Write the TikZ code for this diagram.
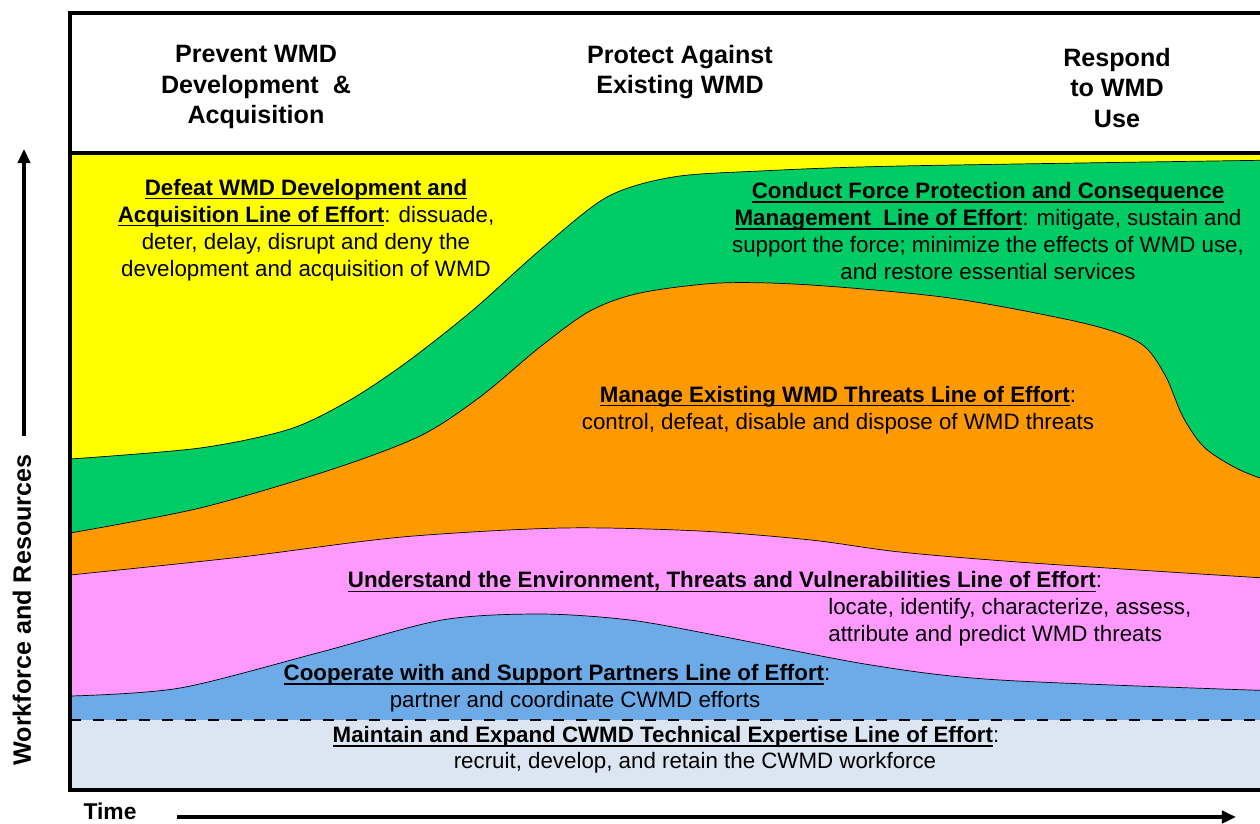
\documentclass[tikz,border=0pt]{standalone}
\usepackage{fontspec}
\setmainfont{Liberation Sans}
\usepackage{tikz}
\usetikzlibrary{arrows.meta}
\usepackage{xcolor}
\definecolor{sunyellow}{RGB}{255,255,0}
\definecolor{leafgreen}{RGB}{0,204,102}
\definecolor{amber}{RGB}{255,153,0}
\definecolor{orchid}{RGB}{255,153,255}
\definecolor{skyblue}{RGB}{108,170,232}
\definecolor{paleblue}{RGB}{220,230,242}
\newsavebox\loebox
\newcommand{\loe}[1]{\sbox\loebox{\bfseries #1}\rlap{\usebox\loebox}\rule[-2.4pt]{\wd\loebox}{0.9pt}}
\tikzset{
  phase/.style={font=\fontsize{14.3}{17.4}\selectfont\bfseries,align=center,inner sep=0pt},
  effort/.style={font=\fontsize{12.7}{15.4}\selectfont,align=center,inner sep=0pt},
  band/.style={draw=black,line width=0.4pt},
  axisarrow/.style={line width=2.3pt,-{Triangle[length=8pt,width=7pt]}}
}

\begin{document}
\begin{tikzpicture}[x=0.02cm,y=-0.02cm]
\useasboundingbox (0,0) rectangle (1260,823);
\clip (0,0) rectangle (1260,823);
\draw[fill=sunyellow,draw=none] (70,153) rectangle (1280,790);
\draw[fill=leafgreen,band] plot[smooth] coordinates {(70,459) (200,448) (290,429) (350,400) (407,362) (473,310) (540,250) (607,197) (673,177) (760,171) (900,166) (1280,160)} -- (1280,790) -- (70,790) -- cycle;
\draw[fill=amber,band] plot[smooth] coordinates {(70,533) (200,508) (330,470) (420,436) (480,397) (540,347) (590,311) (640,293) (720,283) (811,285) (950,298) (1083,323) (1140,343) (1165,375) (1183,417) (1205,448) (1240,470) (1280,485)} -- (1280,790) -- (70,790) -- cycle;
\draw[fill=orchid,band] plot[smooth] coordinates {(70,575) (241,557) (402,537) (562,528) (700,531) (811,540) (900,552) (1032,563) (1280,579)} -- (1280,790) -- (70,790) -- cycle;
\draw[fill=skyblue,band] plot[smooth] coordinates {(70,696) (180,688) (321,652) (442,620) (540,614) (630,620) (720,636) (871,665) (1000,680) (1280,691)} -- (1280,790) -- (70,790) -- cycle;
\draw[fill=paleblue,draw=none] (70,720) rectangle (1280,790);
\draw[line width=1.1pt,dash pattern=on 6.3pt off 6.8pt] (70,720) -- (1280,720);
\draw[line width=2.8pt] (70,13) rectangle (1280,790);
\draw[line width=2.8pt] (70,153) -- (1280,153);

\node[phase] (prevent) at (256,87) {Prevent WMD\\Development\ \ \&\\Acquisition};
\node[phase] (protect) at (680,72) {Protect Against\\Existing WMD};
\node[phase] (respond) at (1117,88) {Respond\\to WMD\\Use};

\node[effort] (defeat) at (306,230) {\loe{Defeat WMD Development and}\\\loe{Acquisition Line of Effort}: dissuade,\\deter, delay, disrupt and deny the\\development and acquisition of WMD};
\node[effort] (conduct) at (988,231) {\loe{Conduct Force Protection and Consequence}\\\loe{Management\ \ Line of Effort}: mitigate, sustain and\\support the force; minimize the effects of WMD use,\\and restore essential services};
\node[effort] (manage) at (838,410) {\loe{Manage Existing WMD Threats Line of Effort}:\\control, defeat, disable and dispose of WMD threats};
\node[effort] (understand) at (725,582) {\loe{Understand the Environment, Threats and Vulnerabilities Line of Effort}:};
\node[effort,align=left,anchor=west] (locate) at (828,622) {locate, identify, characterize, assess,\\attribute and predict WMD threats};
\node[effort] (cooperate) at (557,675) {\loe{Cooperate with and Support Partners Line of Effort}:};
\node[effort] (partner) at (575,702) {partner and coordinate CWMD efforts};
\node[effort] (maintain) at (666,737) {\loe{Maintain and Expand CWMD Technical Expertise Line of Effort}:};
\node[effort] (recruit) at (695,763) {recruit, develop, and retain the CWMD workforce};

\node[phase,rotate=90] (workforce) at (22,610) {Workforce and Resources};
\coordinate (yfoot) at (24,436);
\coordinate (ytip) at (24,149);
\draw[axisarrow] (yfoot) -- (ytip);
\node[font=\fontsize{13}{15}\selectfont\bfseries,inner sep=0pt] (time) at (110,811) {Time};
\coordinate (tstart) at (177,817);
\coordinate (tend) at (1236,817);
\draw[axisarrow] (tstart) -- (tend);
\end{tikzpicture}
\end{document}
